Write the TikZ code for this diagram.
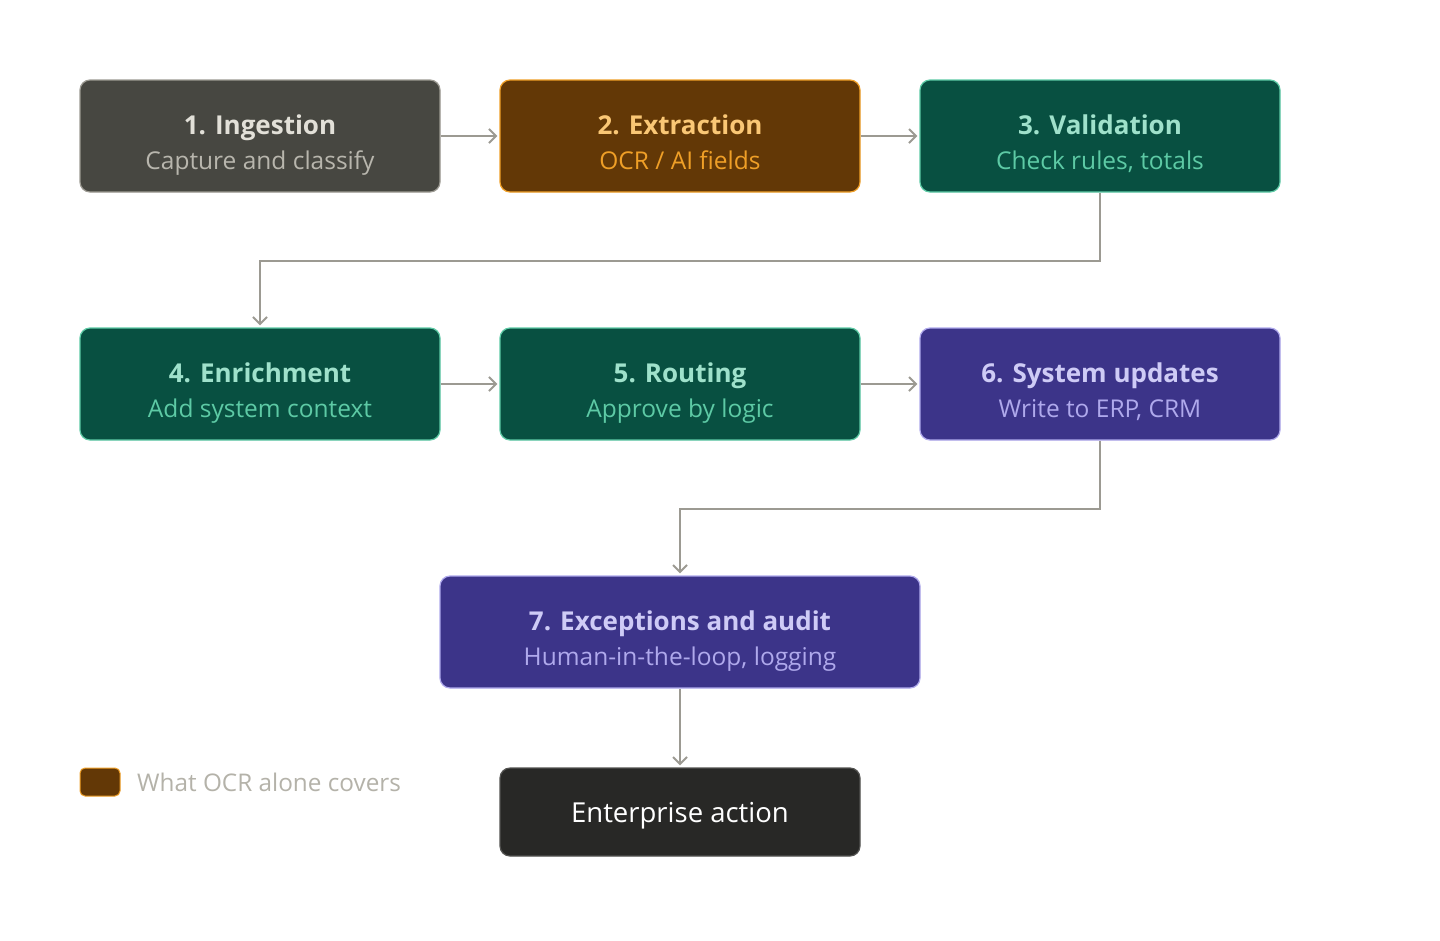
\documentclass[tikz,border=0pt]{standalone}
\usepackage{fontspec}
\setmainfont{Open Sans}
\usetikzlibrary{arrows.meta,calc}
\definecolor{ingfill}{HTML}{474741}
\definecolor{ingdraw}{HTML}{9C9A92}
\definecolor{ingt}{HTML}{E2E0D8}
\definecolor{ings}{HTML}{B8B6AD}
\definecolor{extfill}{HTML}{633806}
\definecolor{extdraw}{HTML}{EF9F27}
\definecolor{extt}{HTML}{FAC775}
\definecolor{exts}{HTML}{EF9F27}
\definecolor{grnfill}{HTML}{085041}
\definecolor{grndraw}{HTML}{5DCAA5}
\definecolor{grnt}{HTML}{9FE1CB}
\definecolor{grns}{HTML}{5DCAA5}
\definecolor{purfill}{HTML}{3C3489}
\definecolor{purdraw}{HTML}{AFA9EC}
\definecolor{purt}{HTML}{CECBF6}
\definecolor{purs}{HTML}{AFA9EC}
\definecolor{entfill}{HTML}{282826}
\definecolor{conncol}{HTML}{9C9A92}
\definecolor{legtext}{HTML}{B4B2A9}
\tikzset{
  box/.style={rectangle, rounded corners=10pt, line width=1.2pt, minimum width=360pt, minimum height=112pt, inner sep=0pt},
  ingbox/.style={box, fill=ingfill, draw=ingdraw},
  extbox/.style={box, fill=extfill, draw=extdraw},
  grnbox/.style={box, fill=grnfill, draw=grndraw},
  purbox/.style={box, fill=purfill, draw=purdraw},
  ttl/.style={font=\fontsize{26}{30}\selectfont\bfseries, inner sep=0pt, anchor=base},
  sub/.style={font=\fontsize{24.5}{28}\selectfont, inner sep=0pt, anchor=base},
  ingt/.style={ttl, text=ingt}, ings/.style={sub, text=ings},
  extt/.style={ttl, text=extt}, exts/.style={sub, text=exts},
  grnt/.style={ttl, text=grnt}, grns/.style={sub, text=grns},
  purt/.style={ttl, text=purt}, purs/.style={sub, text=purs},
  conn/.style={draw=conncol, line width=2pt, -{Straight Barb[length=7pt,width=14pt,line width=2pt]}, shorten >=2pt},
}
\newcommand\mkstep[6]{%
  \node[#4box] (#1) at (#2,#3) {};
  \node[#4t] (#1t) at ($(#1.center)+(0,-2)$) {#5};
  \node[#4s] (#1s) at ($(#1.center)+(0,33)$) {#6};
}
\begin{document}
\begin{tikzpicture}[x=1pt,y=-1pt]
\path[use as bounding box, fill=white] (0,0) rectangle (1440,940);
\mkstep{b1}{260}{136}{ing}{1. Ingestion}{Capture and classify}
\mkstep{b2}{680}{136}{ext}{2. Extraction}{OCR / AI fields}
\mkstep{b3}{1100}{136}{grn}{3. Validation}{Check rules, totals}
\mkstep{b4}{260}{384}{grn}{4. Enrichment}{Add system context}
\mkstep{b5}{680}{384}{grn}{5. Routing}{Approve by logic}
\mkstep{b6}{1100}{384}{pur}{6. System updates}{Write to ERP, CRM}
\node[purbox, minimum width=480pt] (b7) at (680,632) {};
\node[purt] (b7t) at ($(b7.center)+(0,-2)$) {7. Exceptions and audit};
\node[purs] (b7s) at ($(b7.center)+(0,33)$) {Human-in-the-loop, logging};
\node[box, minimum height=88pt, fill=entfill, draw=entfill!80!white] (b8) at (680,812) {};
\node[anchor=base, inner sep=0pt, text=white, font=\fontsize{27.5}{32}\selectfont] (b8t) at ($(b8.center)+(0,10)$) {Enterprise action};
\node[rectangle, rounded corners=5pt, minimum width=40pt, minimum height=28pt, inner sep=0pt, fill=extfill, draw=extdraw, line width=1pt] (leg) at (100,782) {};
\node[anchor=base west, inner sep=0pt, text=legtext, font=\fontsize{24.3}{28}\selectfont] (legt) at (137,791) {What OCR alone covers};
\draw[conn] (b1.east) -- (b2.west);
\draw[conn] (b2.east) -- (b3.west);
\draw[conn] (b4.east) -- (b5.west);
\draw[conn] (b5.east) -- (b6.west);
\draw[conn] (b3.south) -- ++(0,68) -| (b4.north);
\draw[conn] (b6.south) -- ++(0,68) -| (b7.north);
\draw[conn] (b7.south) -- (b8.north);
\end{tikzpicture}
\end{document}
